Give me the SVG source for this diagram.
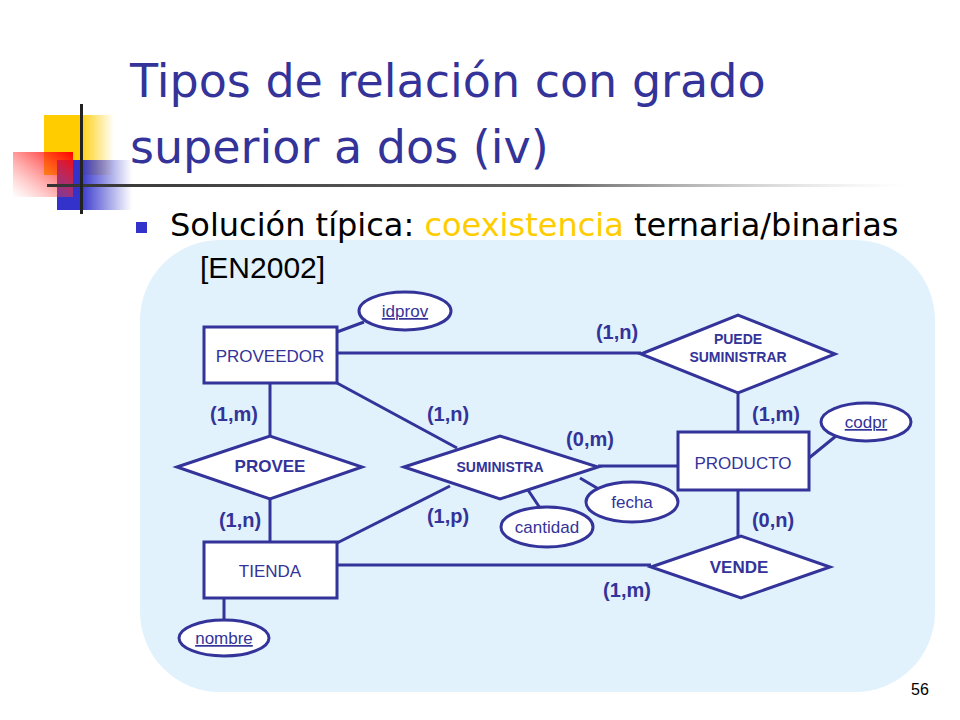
<svg xmlns="http://www.w3.org/2000/svg" width="960" height="720" viewBox="0 0 960 720">
<defs>
<linearGradient id="gy" x1="0" x2="1"><stop offset="0.5" stop-color="#ffcc00"/><stop offset="1" stop-color="#ffcc00" stop-opacity="0"/></linearGradient>
<linearGradient id="gb" x1="0" x2="1"><stop offset="0.3" stop-color="#3333cc"/><stop offset="1" stop-color="#3333cc" stop-opacity="0"/></linearGradient>
<linearGradient id="gr" x1="1" y1="0" x2="0" y2="1"><stop offset="0" stop-color="#ff0000"/><stop offset="1" stop-color="#ff6666" stop-opacity="0"/></linearGradient>
<linearGradient id="gl" x1="0" x2="1"><stop offset="0" stop-color="#333333"/><stop offset="0.6" stop-color="#666666"/><stop offset="1" stop-color="#cccccc" stop-opacity="0"/></linearGradient>
<style>
.s{fill:#fff;stroke:#333399;stroke-width:3}
.c line{stroke:#333399;stroke-width:3}
.t{font-family:"Liberation Sans",Arial,sans-serif;fill:#333399;text-anchor:middle}
.n{font-size:17px}
.b{font-size:14px;font-weight:bold}
.l{font-family:"Liberation Sans",Arial,sans-serif;fill:#333399;font-size:20px;font-weight:bold;text-anchor:middle}
.u{text-decoration:underline}
</style>
</defs>
<rect width="960" height="720" fill="#fff"/>
<rect x="44" y="115" width="70" height="60" fill="url(#gy)"/>
<rect x="57" y="160" width="75" height="50" fill="url(#gb)"/>
<rect x="13" y="152" width="60" height="45" fill="url(#gr)"/>
<rect x="47" y="184" width="860" height="3" fill="url(#gl)"/>
<rect x="80" y="104" width="3" height="110" fill="#222"/>
<text x="130" y="97" font-family="Tahoma,'DejaVu Sans',sans-serif" font-size="46" fill="#333399">Tipos de relación con grado</text>
<text x="130" y="163" font-family="Tahoma,'DejaVu Sans',sans-serif" font-size="46" fill="#333399">superior a dos (iv)</text>
<rect x="140" y="240" width="795" height="452" rx="80" fill="#e1f2fd"/>
<rect x="136" y="222" width="11" height="11" fill="#3333cc"/>
<text x="170" y="236" font-family="Tahoma,'DejaVu Sans',sans-serif" font-size="32" fill="#000">Solución típica: <tspan fill="#ffcc00">coexistencia</tspan> ternaria/binarias</text>
<text x="200" y="278" font-family="'Liberation Sans',Arial,sans-serif" font-size="30" fill="#000">[EN2002]</text>
<g class="c">
<line x1="337" y1="353" x2="641" y2="353"/>
<line x1="270" y1="383" x2="270" y2="436"/>
<line x1="270" y1="499" x2="270" y2="542"/>
<line x1="337" y1="383" x2="457" y2="448"/>
<line x1="598" y1="466" x2="678" y2="466"/>
<line x1="337" y1="543" x2="450" y2="486"/>
<line x1="526" y1="487" x2="540" y2="508"/>
<line x1="580" y1="478" x2="602" y2="491"/>
<line x1="738" y1="432" x2="738" y2="393"/>
<line x1="738" y1="490" x2="738" y2="537"/>
<line x1="337" y1="565" x2="651" y2="565"/>
<line x1="809" y1="458" x2="836" y2="436"/>
<line x1="224" y1="598" x2="224" y2="620"/>
<line x1="337" y1="332" x2="364" y2="322"/>
</g>
<g id="proveedor"><rect class="s" x="204" y="327" width="133" height="56"/><text class="t n" x="270" y="362">PROVEEDOR</text></g>
<g id="idprov"><ellipse class="s" cx="405" cy="311" rx="46" ry="19"/><text class="t n u" x="405" y="317">idprov</text></g>
<g id="puede"><polygon class="s" points="641,354 738,315 835,354 738,393"/><text class="t b" x="738" y="344">PUEDE</text><text class="t b" x="738" y="362">SUMINISTRAR</text></g>
<g id="provee"><polygon class="s" points="177,467 270,436 362,467 270,499"/><text class="t" x="270" y="472" font-size="17" font-weight="bold">PROVEE</text></g>
<g id="suministra"><polygon class="s" points="404,467 500,436 598,467 500,499"/><text class="t b" x="500" y="472">SUMINISTRA</text></g>
<g id="producto"><rect class="s" x="678" y="432" width="131" height="58"/><text class="t n" x="743" y="469">PRODUCTO</text></g>
<g id="codpr"><ellipse class="s" cx="866" cy="422" rx="45" ry="19"/><text class="t n u" x="866" y="428">codpr</text></g>
<g id="tienda"><rect class="s" x="204" y="542" width="133" height="56"/><text class="t n" x="270" y="577">TIENDA</text></g>
<g id="vende"><polygon class="s" points="651,567 741,536 830,567 741,598"/><text class="t" x="739" y="573" font-size="17" font-weight="bold">VENDE</text></g>
<g id="nombre"><ellipse class="s" cx="224" cy="638" rx="45" ry="18"/><text class="t n u" x="224" y="644">nombre</text></g>
<g id="fecha"><ellipse class="s" cx="632" cy="502" rx="46" ry="20"/><text class="t n" x="632" y="508">fecha</text></g>
<g id="cantidad"><ellipse class="s" cx="547" cy="527" rx="46" ry="20"/><text class="t n" x="547" y="533">cantidad</text></g>
<g id="labels">
<text class="l" x="617" y="339">(1,n)</text>
<text class="l" x="234" y="421">(1,m)</text>
<text class="l" x="448" y="421">(1,n)</text>
<text class="l" x="590" y="446">(0,m)</text>
<text class="l" x="776" y="421">(1,m)</text>
<text class="l" x="240" y="527">(1,n)</text>
<text class="l" x="448" y="523">(1,p)</text>
<text class="l" x="773" y="527">(0,n)</text>
<text class="l" x="627" y="597">(1,m)</text>
</g>
<text x="920" y="695" font-family="'Liberation Sans',Arial,sans-serif" font-size="16" fill="#000" text-anchor="middle">56</text>
</svg>
